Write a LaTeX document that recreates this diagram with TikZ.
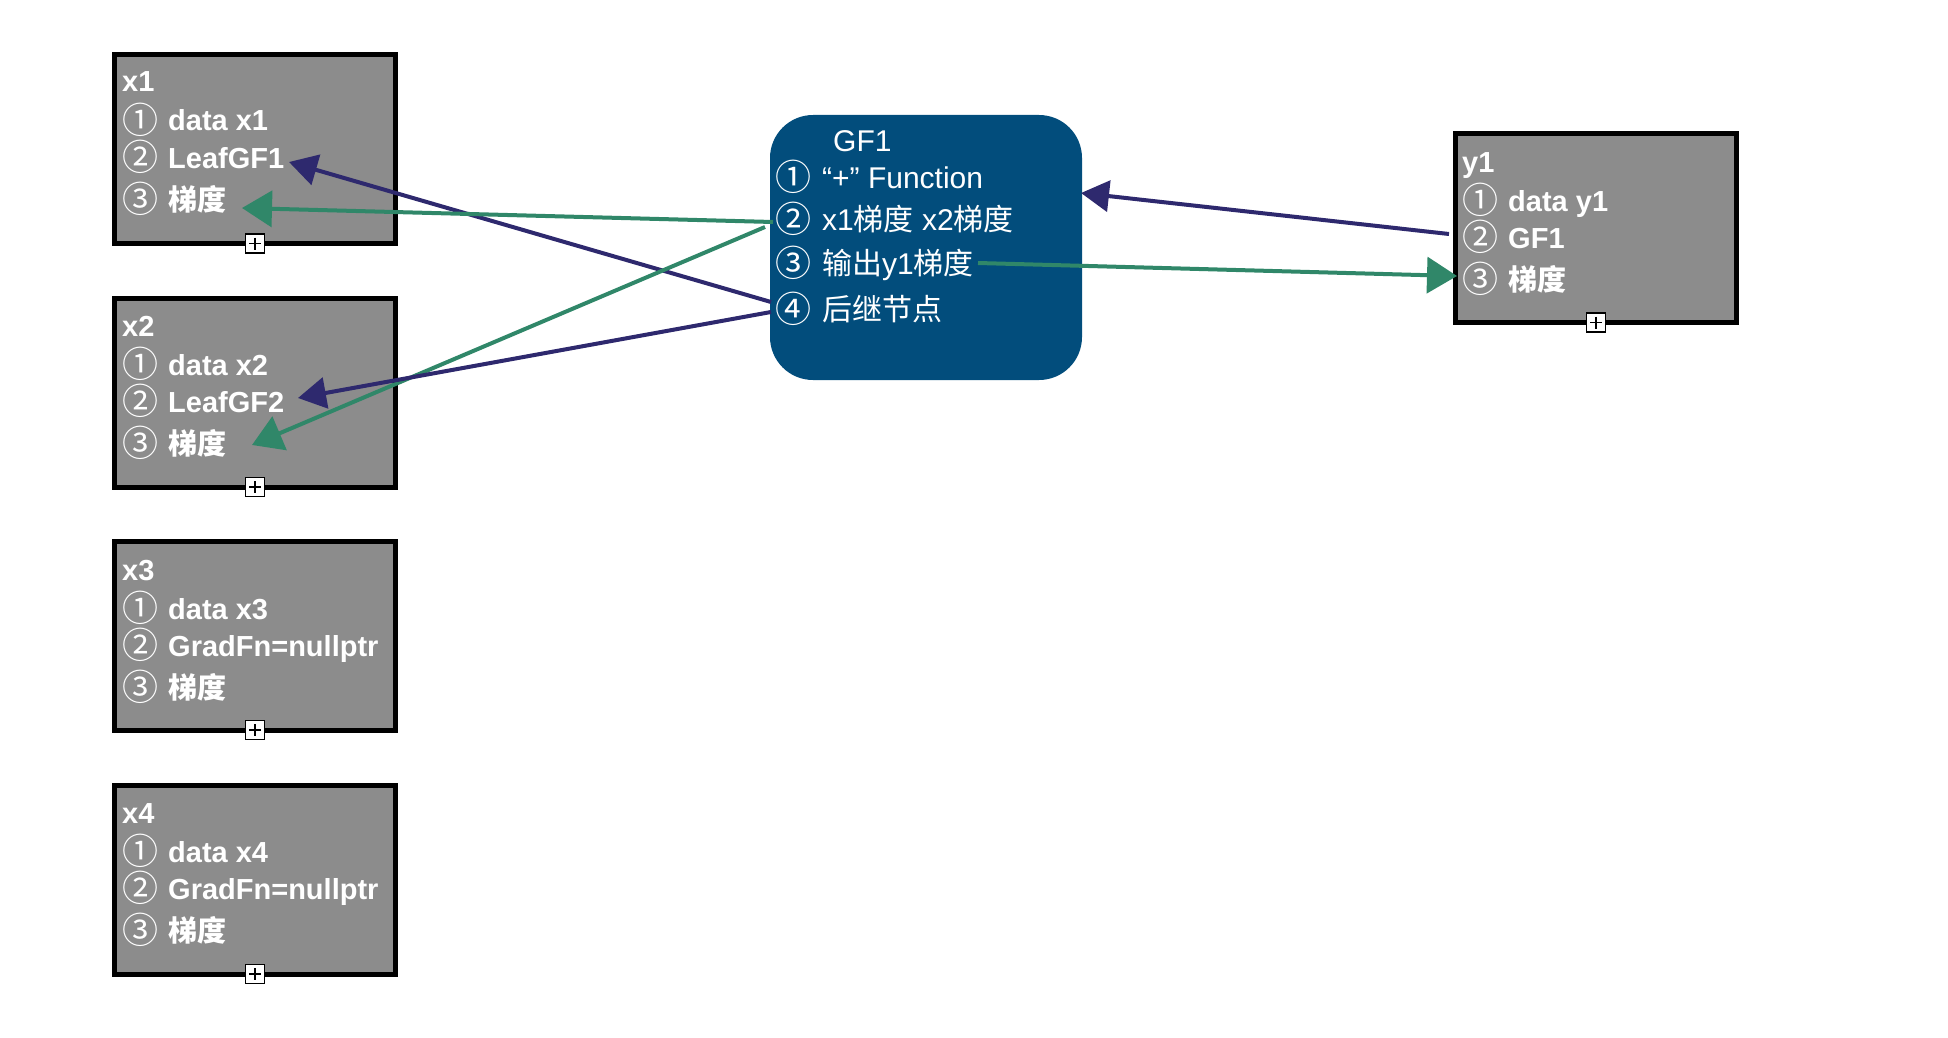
\documentclass[tikz,border=0pt]{standalone}
\usepackage{fontspec}
\setmainfont{Liberation Sans}
\newfontfamily\cjk{Noto Sans CJK SC}
\usetikzlibrary{arrows.meta,calc}
\definecolor{boxgray}{RGB}{140,140,140}
\definecolor{gfblue}{RGB}{2,77,124}
\definecolor{navyarrow}{RGB}{46,41,110}
\definecolor{greenarrow}{RGB}{48,135,105}
\newcommand\circnum[2]{\makebox[#1][l]{\cjk\mdseries\fontsize{36}{36}\selectfont\raisebox{-2pt}{#2}}}
\begin{document}
\begin{tikzpicture}[x=1pt,y=-1pt,
  graybox/.style={draw=black,line width=5pt,fill=boxgray,minimum width=281pt,minimum height=189pt,inner sep=0pt,outer sep=0pt},
  gline/.style={anchor=base west,inner sep=0pt,text=white,font=\fontsize{29}{35}\selectfont\bfseries},
  gfline/.style={anchor=base west,inner sep=0pt,text=white,font=\fontsize{30}{36}\selectfont},
  gfbox/.style={fill=gfblue,rounded corners=43pt,minimum width=312pt,minimum height=265pt,inner sep=0pt},
  plusbox/.style={draw=black,line width=1.5pt,fill=white,minimum size=19pt,inner sep=0pt},
  navyarr/.style={draw=navyarrow,line width=4pt,-{Triangle[length=28pt,width=31pt]}},
  greenarr/.style={draw=greenarrow,line width=4pt,-{Triangle[length=30pt,width=36pt]}}
]
\useasboundingbox (0,0) rectangle (1948,1038);

% gray boxes
\node[graybox] (x1) at (255,149) {};
\node[graybox] (x2) at (255,392.5) {};
\node[graybox] (x3) at (255,635.5) {};
\node[graybox] (x4) at (255,879.5) {};
\node[graybox] (y1) at (1596,228) {};

% plus boxes
\foreach \b in {x1,x2,x3,x4,y1}{
  \node[plusbox] (\b p) at (\b.south) {};
  \draw[line width=1.5pt] ($(\b p.center)+(-6,0)$) -- ($(\b p.center)+(6,0)$);
  \draw[line width=1.5pt] ($(\b p.center)+(0,-6)$) -- ($(\b p.center)+(0,6)$);
}

% x1 text
\node[gline] (x1a) at (122,92) {x1};
\node[gline] (x1b) at (122,131) {\circnum{46pt}{①}data x1};
\node[gline] (x1c) at (122,168) {\circnum{46pt}{②}LeafGF1};
\node[gline] (x1d) at (122,210) {\circnum{46pt}{③}{\cjk 梯度}};
% x2 text
\node[gline] (x2a) at (122,336) {x2};
\node[gline] (x2b) at (122,375) {\circnum{46pt}{①}data x2};
\node[gline] (x2c) at (122,412) {\circnum{46pt}{②}LeafGF2};
\node[gline] (x2d) at (122,454) {\circnum{46pt}{③}{\cjk 梯度}};
% x3 text
\node[gline] (x3a) at (122,580) {x3};
\node[gline] (x3b) at (122,619) {\circnum{46pt}{①}data x3};
\node[gline] (x3c) at (122,656) {\circnum{46pt}{②}GradFn=nullptr};
\node[gline] (x3d) at (122,698) {\circnum{46pt}{③}{\cjk 梯度}};
% x4 text
\node[gline] (x4a) at (122,823) {x4};
\node[gline] (x4b) at (122,862) {\circnum{46pt}{①}data x4};
\node[gline] (x4c) at (122,899) {\circnum{46pt}{②}GradFn=nullptr};
\node[gline] (x4d) at (122,941) {\circnum{46pt}{③}{\cjk 梯度}};
% y1 text
\node[gline] (y1a) at (1462,172) {y1};
\node[gline] (y1b) at (1462,211) {\circnum{46pt}{①}data y1};
\node[gline] (y1c) at (1462,248) {\circnum{46pt}{②}GF1};
\node[gline] (y1d) at (1462,290) {\circnum{46pt}{③}{\cjk 梯度}};

% GF1 box
\node[gfbox] (gf1) at (926,247.5) {};
\node[gfline] (gfa) at (833,151) {GF1};
\node[gfline] (gfb) at (775,188) {\circnum{47pt}{①}“+” Function};
\node[gfline] (gfc) at (775,230) {\circnum{47pt}{②}x1{\cjk 梯度} x2{\cjk 梯度}};
\node[gfline] (gfd) at (775,274) {\circnum{47pt}{③}{\cjk 输出}y1{\cjk 梯度}};
\node[gfline] (gfe) at (775,320) {\circnum{47pt}{④}{\cjk 后继节点}};

% connector end points
\coordinate (t1) at (771,302);  \coordinate (h1) at (289,162);
\coordinate (t2) at (773,222);  \coordinate (h2) at (242,208);
\coordinate (t3) at (765,227);  \coordinate (h3) at (252,445);
\coordinate (t4) at (771,312);  \coordinate (h4) at (298,398);
\coordinate (t5) at (1449,234); \coordinate (h5) at (1081,193);
\coordinate (t6) at (978,263);  \coordinate (h6) at (1457,276);

\draw[navyarr] (t1) -- (h1);
\draw[greenarr] (t2) -- (h2);
\draw[greenarr] (t3) -- (h3);
\draw[navyarr] (t4) -- (h4);
\draw[navyarr] (t5) -- (h5);
\draw[greenarr] (t6) -- (h6);
\end{tikzpicture}
\end{document}
